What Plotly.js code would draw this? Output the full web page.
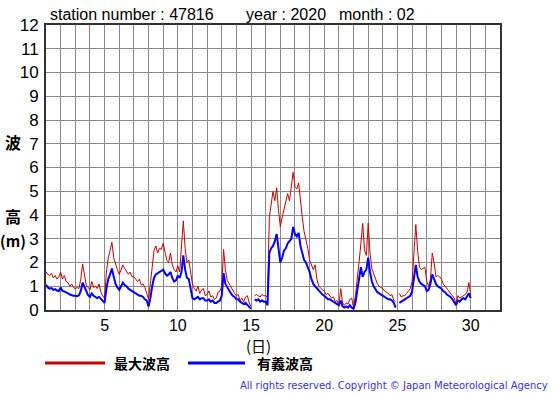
<!DOCTYPE html>
<html><head><meta charset="utf-8">
<script src="https://cdn.plot.ly/plotly-3.0.1.min.js"></script>
<style>html,body{margin:0;padding:0;background:#fff}#chart{width:555px;height:395px}</style>
</head><body><div id="chart"></div>
<script>
// 3-hourly samples starting at day 1.0 (8 per day)
const startDay = 1;
const stepDay = 1/8;
const maxWave = [
 1.62,1.5,1.45,1.55,1.35,1.45,1.3,1.4,
 1.6,1.3,1.45,1.2,1.15,1.0,1.1,0.95,
 0.9,0.95,0.9,1.3,1.94,1.45,1.05,0.95,
 0.85,1.2,0.95,1.0,0.9,1.1,0.75,0.6,
 0.5,1.6,2.2,2.5,2.85,2.2,1.9,1.7,
 1.5,1.75,1.9,1.75,1.65,1.5,1.6,1.4,
 1.4,1.3,1.2,1.3,1.05,1.1,0.95,0.7,
 0.45,1.1,1.9,2.5,2.7,2.4,2.6,2.55,
 2.8,2.4,2.1,2.0,2.4,1.9,1.7,1.6,
 1.85,1.6,2.7,3.75,2.6,2.0,2.1,1.6,
 1.1,0.9,0.8,1.0,0.7,0.85,0.9,0.6,
 0.65,0.8,0.55,0.6,0.45,0.5,0.75,0.8,
 1.0,2.55,1.7,1.25,1.1,1.0,0.8,0.7,
 0.6,0.65,0.4,0.5,0.35,0.55,0.6,0.3,
 0.15,null,0.6,0.65,0.6,0.55,0.65,0.6,
 0.6,0.55,3.9,4.4,5.0,4.6,5.15,4.2,
 3.5,3.9,4.2,4.5,4.9,4.6,5.2,5.8,
 5.2,5.1,5.35,4.5,3.9,3.3,3.0,2.6,
 2.1,1.85,1.7,1.9,1.3,1.0,0.9,0.85,
 0.8,0.65,0.7,0.6,0.5,0.55,0.35,0.4,
 0.2,0.9,0.3,0.2,0.3,0.25,0.45,0.5,
 0.1,0.6,1.2,2.0,2.8,3.65,2.5,2.3,
 3.65,2.4,1.75,1.5,1.3,1.1,1.0,0.95,
 0.9,0.8,0.75,0.7,0.6,0.65,0.4,0.35,
 null,0.7,0.55,0.6,0.6,0.7,0.8,0.9,
 1.2,2.3,3.6,2.5,1.8,1.7,1.75,1.8,
 1.2,1.0,1.3,2.4,2.0,1.4,1.45,1.4,
 1.3,1.1,1.0,0.9,0.85,0.7,0.6,0.5,
 0.25,0.6,0.5,0.55,0.6,0.65,0.75,1.15,
 0.65
];
const sigWave = [
 1.06,0.95,0.9,0.92,0.85,0.88,0.82,0.8,
 0.95,0.8,0.78,0.72,0.7,0.65,0.62,0.6,
 0.6,0.58,0.62,0.8,1.15,0.95,0.75,0.62,
 0.55,0.7,0.6,0.55,0.5,0.55,0.45,0.35,
 0.3,0.9,1.3,1.5,1.75,1.4,1.1,0.95,
 0.85,1.0,1.15,1.05,1.0,0.9,0.85,0.8,
 0.75,0.7,0.68,0.6,0.6,0.55,0.45,0.4,
 0.15,0.5,1.0,1.35,1.5,1.55,1.6,1.65,
 1.7,1.55,1.45,1.5,1.6,1.35,1.2,1.25,
 1.45,1.35,1.6,2.3,1.7,1.35,1.3,0.9,
 0.5,0.45,0.5,0.55,0.45,0.5,0.5,0.4,
 0.4,0.45,0.35,0.4,0.3,0.3,0.35,0.4,
 0.6,1.55,1.1,0.95,0.8,0.7,0.6,0.55,
 0.45,0.45,0.35,0.3,0.25,0.3,0.2,0.15,
 0.05,null,0.45,0.4,0.45,0.35,0.4,0.35,
 0.35,0.2,2.4,2.6,2.7,2.9,3.2,2.5,
 2.0,2.2,2.5,2.6,2.8,2.9,3.0,3.5,
 3.2,3.1,3.25,2.7,2.4,2.1,2.0,1.8,
 1.6,1.3,1.1,1.0,0.9,0.85,0.7,0.65,
 0.6,0.5,0.45,0.45,0.4,0.35,0.3,0.25,
 0.2,0.4,0.15,0.1,0.15,0.1,0.2,0.1,
 0.05,0.3,0.8,1.3,1.8,1.4,1.6,1.7,
 2.2,1.6,1.2,1.0,0.85,0.75,0.7,0.65,
 0.6,0.55,0.5,0.45,0.45,0.4,0.3,0.1,
 null,0.3,0.35,0.4,0.45,0.5,0.55,0.6,
 0.8,1.3,1.9,1.4,1.2,1.1,1.05,1.0,
 0.8,0.85,1.1,1.5,1.3,1.1,1.0,0.95,
 0.9,0.8,0.75,0.65,0.6,0.55,0.45,0.35,
 0.2,0.4,0.35,0.45,0.5,0.45,0.55,0.7,
 0.5
];
const dayTicks = Array.from({length:32},(_,i)=>i+1);
const dayLabels = dayTicks.map(d => d%5===0 ? String(d) : '');
const seriesNames = ['最大波高','有義波高'];

const days = maxWave.map((_,i)=>startDay + i*stepDay);

const W=555,H=395,L=46,R=500,T=25,B=310;
const px = x => (x-L)/(R-L);
const py = y => (B-y)/(B-T);
const font = 'Liberation Sans, Arial, sans-serif';
const cjk = 'Noto Sans CJK JP, sans-serif';

const traces = [
 {x:days, y:maxWave, type:'scatter', mode:'lines', name:seriesNames[0], line:{color:'#cc0000', width:1}, connectgaps:false},
 {x:days, y:sigWave, type:'scatter', mode:'lines', name:seriesNames[1], line:{color:'#0000ff', width:2}, connectgaps:false}
];

const ann = (x,y,text,size,opts={}) => Object.assign({xref:'paper',yref:'paper',x:px(x),y:py(y),text:text,showarrow:false,
  font:{family:font,size:size,color:'#000'},xanchor:'left',yanchor:'middle',borderpad:0},opts);

const layout = {
 width:W,height:H,margin:{l:L,r:W-R,t:T,b:H-B},
 paper_bgcolor:'#fff',plot_bgcolor:'#fff',showlegend:false,
 xaxis:{range:[1,32],tickvals:dayTicks,ticktext:dayLabels,showgrid:true,gridcolor:'#8a8a8a',gridwidth:1,
   zeroline:false,showline:true,linecolor:'#333',linewidth:2,mirror:true,ticks:'',ticklabelstandoff:0,
   tickfont:{family:font,size:16,color:'#000'}},
 yaxis:{range:[0,12],dtick:1,tick0:0,showgrid:true,gridcolor:'#8a8a8a',gridwidth:1,
   zeroline:false,showline:true,linecolor:'#333',linewidth:2,mirror:true,ticks:'',ticklabelstandoff:2,
   tickfont:{family:font,size:17,color:'#000'}},
 annotations:[
  ann(49,14,'station number : 47816',16),
  ann(245,14,'year : 2020',16),
  ann(338,14,'month : 02',16),
  ann(13,142,'波',16,{font:{family:cjk,size:16,color:'#000',weight:'bold'},xanchor:'center'}),
  ann(13,216,'高',16,{font:{family:cjk,size:16,color:'#000',weight:'bold'},xanchor:'center'}),
  ann(13,240,'(m)',15,{font:{family:cjk,size:15,color:'#000',weight:'bold'},xanchor:'center'}),
  ann(258,345,'(日)',15,{font:{family:cjk,size:15,color:'#000'},xanchor:'center'}),
  ann(142,363,seriesNames[0],14,{font:{family:cjk,size:14,color:'#000',weight:'bold'},xanchor:'center'}),
  ann(285,363,seriesNames[1],14,{font:{family:cjk,size:14,color:'#000',weight:'bold'},xanchor:'center'}),
  ann(549,385,'All rights reserved. Copyright © Japan Meteorological Agency',10,{font:{family:'DejaVu Sans, sans-serif',size:10,color:'#3333ee'},xanchor:'right'})
 ],
 shapes:[
  {type:'line',xref:'paper',yref:'paper',x0:px(45),x1:px(105),y0:py(363),y1:py(363),line:{color:'#cc0000',width:3}},
  {type:'line',xref:'paper',yref:'paper',x0:px(188),x1:px(245),y0:py(363),y1:py(363),line:{color:'#0000ff',width:3}}
 ]
};
Plotly.newPlot('chart',traces,layout,{staticPlot:true,displayModeBar:false});
</script></body></html>
